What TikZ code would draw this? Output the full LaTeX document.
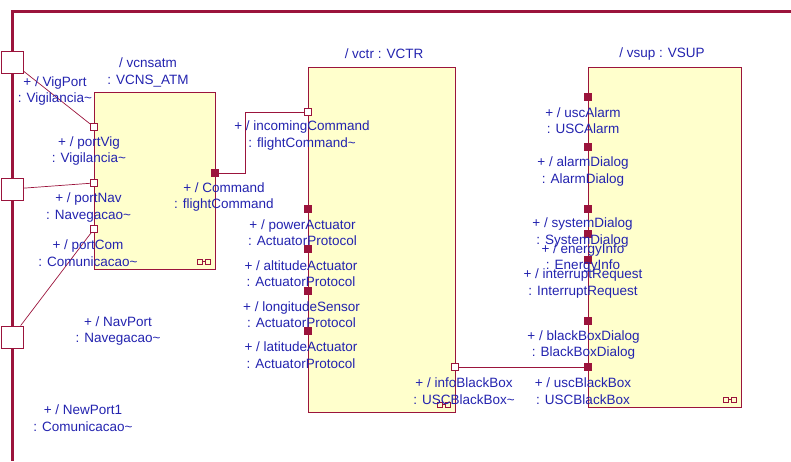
\documentclass[tikz,border=0pt]{standalone}
\usepackage{fontspec}
\setmainfont{Liberation Sans}
\usepackage{tikz}

\definecolor{umlred}{RGB}{155,20,60}
\definecolor{umlblue}{RGB}{35,35,175}
\definecolor{umlfill}{RGB}{255,255,204}

\begin{document}
\begin{tikzpicture}[x=1pt, y=-1pt, every node/.style={font=\fontsize{13.5}{16.5}\selectfont, text=umlblue},
	part/.style={draw=umlred, fill=umlfill, line width=0.8pt, inner sep=0pt, outer sep=0pt},
	bigport/.style={draw=umlred, fill=white, line width=0.8pt, minimum size=22pt, inner sep=0pt},
	portin/.style={draw=umlred, fill=white, line width=0.8pt, minimum size=7pt, inner sep=0pt},
	portout/.style={draw=umlred, fill=umlred, line width=0.8pt, minimum size=7pt, inner sep=0pt},
	lbl/.style={align=center, inner sep=0pt},
	wire/.style={draw=umlred, line width=0.7pt}]
	\useasboundingbox (0,0) rectangle (791,461);
	\draw[umlred, line width=3pt] (791,11) -- (12,11) -- (12,461);
	\node[part, minimum width=121pt, minimum height=177pt] (vcnsatm) at (154.5,180.5) {};
	\node[part, minimum width=147pt, minimum height=345pt] (vctr) at (381.5,239.5) {};
	\node[part, minimum width=153pt, minimum height=340pt] (vsup) at (664.5,237) {};
	\foreach \b in {vcnsatm,vctr,vsup} {\draw[umlred, line width=0.6pt, shift={(\b.south east)}] (-18,-10) rectangle (-13,-5) (-10,-10) rectangle (-5,-5) (-13,-7.5) -- (-10,-7.5);}
	\node[bigport] (vigport) at (12,62) {};
	\node[bigport] (navport) at (12,189) {};
	\node[bigport] (comport) at (12,337) {};
	\node[portin] (portvig) at (94,127) {};
	\node[portin] (portnav) at (94,183) {};
	\node[portin] (portcom) at (94,229) {};
	\node[portout] (command) at (215,173) {};
	\node[portin] (incoming) at (308,112) {};
	\foreach \n/\y in {power/209,altitude/249,longitude/291,latitude/331} {\node[portout] (\n) at (308,\y) {};}
	\node[portin] (infobb) at (455,367) {};
	\foreach \n/\y in {uscalarm/97,alarmdlg/147,systemdlg/209,energy/234,interrupt/260,blackboxdlg/321,uscbb/367} {\node[portout] (\n) at (588,\y) {};}
	\coordinate (cmdbend) at (245,112);
	\draw[wire] (vigport) -- (portvig);
	\draw[wire] (navport) -- (portnav);
	\draw[wire] (comport) -- (portcom);
	\draw[wire] (command) -| (cmdbend) -- (incoming);
	\draw[wire] (infobb) -- (uscbb);
	\node[lbl] (t1) at (148,72.5) {/ vcnsatm\\: VCNS\_ATM};
	\node[lbl] (t2) at (384,54) {/ vctr : VCTR};
	\node[lbl] (t3) at (662,54) {/ vsup : VSUP};
	\node[lbl] at (55,91) {+ / VigPort\\: Vigilancia\textasciitilde};
	\node[lbl] at (89,151) {+ / portVig\\: Vigilancia\textasciitilde};
	\node[lbl] at (88.5,207.5) {+ / portNav\\: Navegacao\textasciitilde};
	\node[lbl] at (88,253) {+ / portCom\\: Comunicacao\textasciitilde};
	\node[lbl] at (224,197) {+ / Command\\: flightCommand};
	\node[lbl] at (118,331) {+ / NavPort\\: Navegacao\textasciitilde};
	\node[lbl] at (83,418) {+ / NewPort1\\: Comunicacao\textasciitilde};
	\node[lbl] at (302,135.5) {+ / incomingCommand\\: flightCommand\textasciitilde};
	\node[lbl] at (302.5,232.5) {+ / powerActuator\\: ActuatorProtocol};
	\node[lbl] at (301,273.5) {+ / altitudeActuator\\: ActuatorProtocol};
	\node[lbl] at (301.5,314.5) {+ / longitudeSensor\\: ActuatorProtocol};
	\node[lbl] at (301,355) {+ / latitudeActuator\\: ActuatorProtocol};
	\node[lbl] at (464,391) {+ / infoBlackBox\\: USCBlackBox\textasciitilde};
	\node[lbl] at (583,120.5) {+ / uscAlarm\\: USCAlarm};
	\node[lbl] at (583,171.5) {+ / alarmDialog\\: AlarmDialog};
	\node[lbl] at (582.5,232.5) {+ / systemDialog\\: SystemDialog};
	\node[lbl] at (583,258) {+ / energyInfo\\: EnergyInfo};
	\node[lbl] at (583,283.5) {+ / interruptRequest\\: InterruptRequest};
	\node[lbl] at (583.5,345) {+ / blackBoxDialog\\: BlackBoxDialog};
	\node[lbl] at (583,391) {+ / uscBlackBox\\: USCBlackBox};
\end{tikzpicture}
\end{document}
